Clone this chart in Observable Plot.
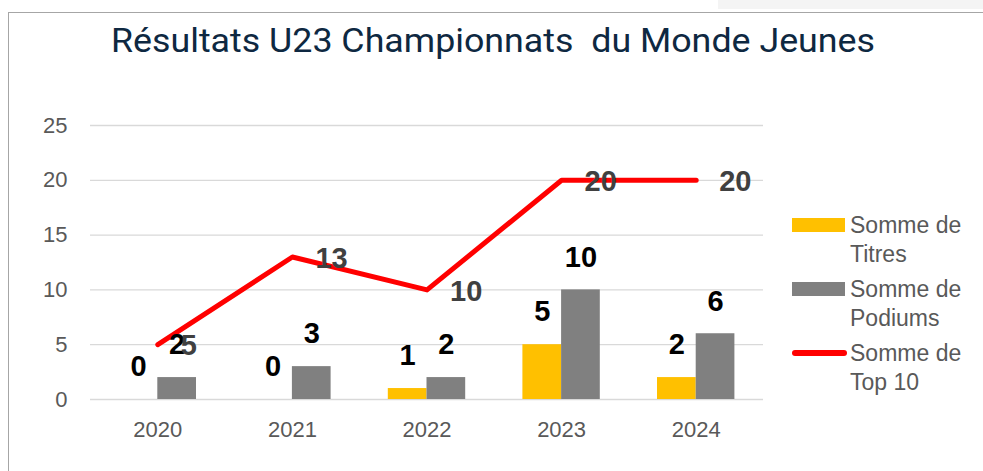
<!DOCTYPE html>
<html><head><meta charset="utf-8">
<script src="https://cdn.jsdelivr.net/npm/d3@7"></script>
<script src="https://cdn.jsdelivr.net/npm/@observablehq/plot@0.6"></script>
<style>
body{margin:0;background:#fff;}
#wrap{position:relative;width:983px;height:471px;overflow:hidden;background:#fff;font-family:"Liberation Sans",Arial,sans-serif;}
#band{position:absolute;left:718px;top:0;width:265px;height:9px;background:#f4f4f4;}
#frame{position:absolute;left:8px;top:12px;width:990px;height:480px;border-left:1px solid #a6a6a6;border-top:1px solid #a6a6a6;}
#title{position:absolute;left:111px;top:21px;line-height:40px;white-space:nowrap;font-family:Roboto,"Liberation Sans",sans-serif;font-size:33px;color:#0E2841;transform-origin:0 0;}
#chart{position:absolute;left:0;top:71px;}
.lg{position:absolute;left:850px;font-size:23px;line-height:29px;color:#595959;white-space:nowrap;}
.sw{position:absolute;}
</style></head><body>
<div id="wrap">
 <div id="band"></div>
 <div id="frame"></div>
 <div id="title">Résultats U23 Championnats&nbsp; du Monde Jeunes</div>
 <div id="chart"></div>
 <div id="legend"></div>
</div>
<script>
const years = ["2020","2021","2022","2023","2024"];
const titres = [0,0,1,5,2];
const podiums = [2,3,2,10,6];
const top10 = [5,13,10,20,20];
const yTicks = [0,5,10,15,20,25];
const legendLabels = [["Somme de","Titres"],["Somme de","Podiums"],["Somme de","Top 10"]];
const colors = ["#FFC000","#808080","#FF0000"];

const data = years.map((y,i)=>({year:y,titres:titres[i],podiums:podiums[i],top10:top10[i]}));
const W=983,H=400,mL=90,mR=220,mT=54,mB=72;
const bw=(W-mL-mR)/years.length;
const barW=38.7, half=bw/2, off=barW/2;
const font='"Liberation Sans",Arial,sans-serif';

const chart = Plot.plot({
  width:W,height:H,marginLeft:mL,marginRight:mR,marginTop:mT,marginBottom:mB,
  style:{fontFamily:font,background:"transparent",overflow:"visible"},
  x:{type:"band",domain:years,padding:0,round:false},
  y:{domain:[0,25]},
  marks:[
    Plot.ruleY(yTicks,{stroke:"#d9d9d9",strokeWidth:1.3}),
    Plot.axisY({ticks:yTicks,tickSize:0,tickPadding:23,fontSize:22,color:"#595959",label:null}),
    Plot.axisX({tickSize:0,tickPadding:22,fontSize:22,color:"#595959",label:null}),
    Plot.barY(data,{x:"year",y:"titres",fill:colors[0],insetLeft:half-barW,insetRight:half}),
    Plot.barY(data,{x:"year",y:"podiums",fill:colors[1],insetLeft:half,insetRight:half-barW}),
    Plot.line(data,{x:"year",y:"top10",stroke:colors[2],strokeWidth:5,strokeLinecap:"round"}),
    Plot.text(data,{x:"year",y:"podiums",text:d=>String(d.podiums),dx:off,dy:-32.5,fontSize:29,fontWeight:"bold",fill:"#000"}),
    Plot.text(data,{x:"year",y:"titres",text:d=>String(d.titres),dx:-off,dy:-32.5,fontSize:29,fontWeight:"bold",fill:"#000"}),
    Plot.text(data,{x:"year",y:"top10",text:d=>String(d.top10),dx:23,dy:1.5,textAnchor:"start",fontSize:29,fontWeight:"bold",fill:"#404040"})
  ]
});
document.getElementById("chart").appendChild(chart);

// title fit
const t=document.getElementById("title");
const tw=t.getBoundingClientRect().width;
t.style.transform=`scaleX(${764/tw})`;

// legend
const lg=document.getElementById("legend");
const centers=[225,289,353];
legendLabels.forEach((lines,i)=>{
  const d=document.createElement("div");
  d.className="lg";
  d.style.top=(centers[i]-14.5)+"px";
  d.innerHTML=lines.join("<br>");
  lg.appendChild(d);
  const s=document.createElement("div");
  s.className="sw";
  if(i<2){
    s.style.left="792px";s.style.width="53px";s.style.top=(centers[i]-7)+"px";s.style.height="14px";s.style.background=colors[i];
  } else {
    s.style.left="792px";s.style.width="55px";s.style.top=(centers[i]-3)+"px";s.style.height="6px";s.style.background=colors[i];s.style.borderRadius="3px";
  }
  lg.appendChild(s);
});
</script>
</body></html>
